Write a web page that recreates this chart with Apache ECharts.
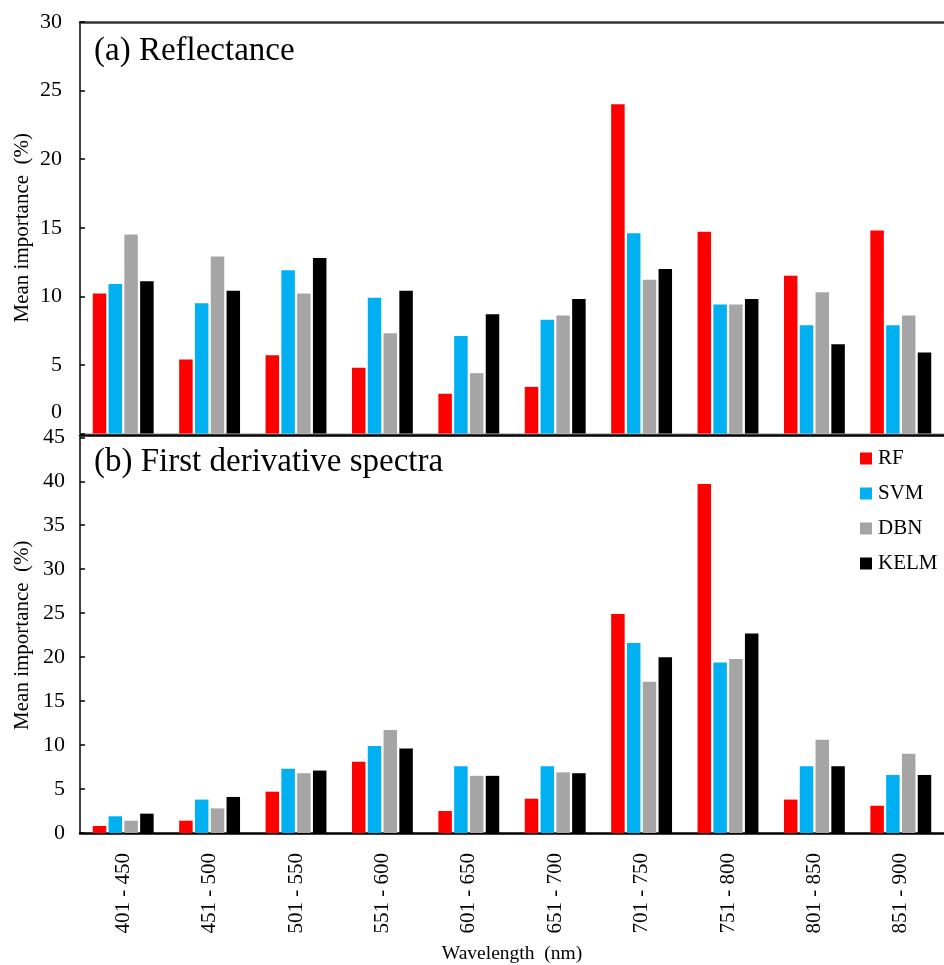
<!DOCTYPE html>
<html>
<head>
<meta charset="utf-8">
<script src="https://cdn.jsdelivr.net/npm/echarts@6/dist/echarts.min.js"></script>
<style>
  html, body { margin: 0; padding: 0; background: #fff; }
  #chart { width: 944px; height: 965px; }
</style>
</head>
<body>
<div id="chart"></div>
<script>
// Wavelength bands (nm)
const bands = ['401 - 450', '451 - 500', '501 - 550', '551 - 600', '601 - 650',
               '651 - 700', '701 - 750', '751 - 800', '801 - 850', '851 - 900'];
const models = ['RF', 'SVM', 'DBN', 'KELM'];

// (a) Reflectance – mean importance (%)
const reflRF   = [10.2, 5.4, 5.7, 4.8, 2.9, 3.4, 24.0, 14.7, 11.5, 14.8];
const reflSVM  = [10.9, 9.5, 11.9, 9.9, 7.1, 8.3, 14.6, 9.4, 7.9, 7.9];
const reflDBN  = [14.5, 12.9, 10.2, 7.3, 4.4, 8.6, 11.2, 9.4, 10.3, 8.6];
const reflKELM = [11.1, 10.4, 12.8, 10.4, 8.7, 9.8, 12.0, 9.8, 6.5, 5.9];

// (b) First derivative spectra – mean importance (%)
const derRF   = [0.8, 1.4, 4.7, 8.1, 2.5, 3.9, 24.9, 39.7, 3.8, 3.1];
const derSVM  = [1.9, 3.8, 7.3, 9.9, 7.6, 7.6, 21.6, 19.4, 7.6, 6.6];
const derDBN  = [1.4, 2.8, 6.8, 11.7, 6.5, 6.9, 17.2, 19.8, 10.6, 9.0];
const derKELM = [2.2, 4.1, 7.1, 9.6, 6.5, 6.8, 20.0, 22.7, 7.6, 6.6];

const colors = ['#FF0000', '#00B0F0', '#A5A5A5', '#000000'];
const serif = '"Liberation Serif", "Times New Roman", serif';

const reflData = [reflRF, reflSVM, reflDBN, reflKELM];
const derData = [derRF, derSVM, derDBN, derKELM];

function barSeries(values, i, axisIdx) {
  return {
    name: models[i],
    type: 'bar',
    xAxisIndex: axisIdx,
    yAxisIndex: axisIdx === 0 ? 0 : 1,
    data: values,
    barWidth: 13.5,
    barGap: '17%',
    itemStyle: { color: colors[i] },
    emphasis: { disabled: true }
  };
}

const yAxisCommon = {
  type: 'value',
  min: 0,
  interval: 5,
  splitLine: { show: false },
  axisLine: { show: true, lineStyle: { color: '#000', width: 1.5 } },
  axisTick: { show: true, inside: true, length: 5, lineStyle: { color: '#000', width: 1.5 } },
  nameLocation: 'middle',
  nameRotate: 90,
  nameGap: 47,
  nameMoveOverlap: false,
  nameTextStyle: { fontFamily: serif, fontSize: 21, color: '#000' }
};

const chart = echarts.init(document.getElementById('chart'));
chart.setOption({
  animation: false,
  backgroundColor: '#fff',
  title: [
    { text: '(a) Reflectance', left: 94, top: 35, padding: 0,
      textStyle: { fontFamily: serif, fontSize: 33, fontWeight: 'normal', color: '#000' } },
    { text: '(b) First derivative spectra', left: 94, top: 446, padding: 0,
      textStyle: { fontFamily: serif, fontSize: 33, fontWeight: 'normal', color: '#000' } }
  ],
  legend: {
    data: models,
    orient: 'vertical',
    left: 860,
    top: 448,
    padding: 0,
    itemWidth: 12,
    itemHeight: 12,
    itemGap: 14,
    icon: 'rect',
    textStyle: { fontFamily: serif, fontSize: 21, color: '#000', padding: [0, 0, 0, 1] }
  },
  grid: [
    { left: 80, top: 22, width: 865, height: 411.5 },
    { left: 80, top: 437.3, width: 865, height: 396 }
  ],
  xAxis: [
    { type: 'category', gridIndex: 0, data: bands,
      axisLine: { lineStyle: { color: '#bfbfbf', width: 1 } },
      axisTick: { show: false }, axisLabel: { show: false } },
    { type: 'category', gridIndex: 0, position: 'top', data: bands,
      axisLine: { lineStyle: { color: '#333', width: 2.5 } },
      axisTick: { show: false }, axisLabel: { show: false } },
    { type: 'category', gridIndex: 1, data: bands,
      axisLine: { lineStyle: { color: '#000', width: 2.5 } },
      axisTick: { show: false },
      axisLabel: { rotate: 90, margin: 20, fontFamily: serif, fontSize: 21, color: '#000' },
      name: 'Wavelength  (nm)', nameLocation: 'middle', nameGap: 111,
      nameTextStyle: { fontFamily: serif, fontSize: 19.5, color: '#000' } },
    { type: 'category', gridIndex: 1, position: 'top', offset: 2, data: bands,
      axisLine: { lineStyle: { color: '#000', width: 2.5 } },
      axisTick: { show: false }, axisLabel: { show: false } }
  ],
  yAxis: [
    Object.assign({}, yAxisCommon, {
      gridIndex: 0, max: 30, name: 'Mean importance  (%)',
      axisLabel: {
        margin: 18, fontFamily: serif, fontSize: 22, color: '#000',
        formatter: v => (v === 0 ? '{z|0}' : String(v)),
        rich: { z: { fontFamily: serif, fontSize: 22, color: '#000', padding: [0, 0, 42, 0] } }
      }
    }),
    Object.assign({}, yAxisCommon, {
      gridIndex: 1, max: 45, name: 'Mean importance  (%)',
      axisLabel: { margin: 15, fontFamily: serif, fontSize: 22, color: '#000' }
    })
  ],
  series: [
    ...reflData.map((d, i) => barSeries(d, i, 0)),
    ...derData.map((d, i) => barSeries(d, i, 2))
  ]
});
</script>
</body>
</html>
